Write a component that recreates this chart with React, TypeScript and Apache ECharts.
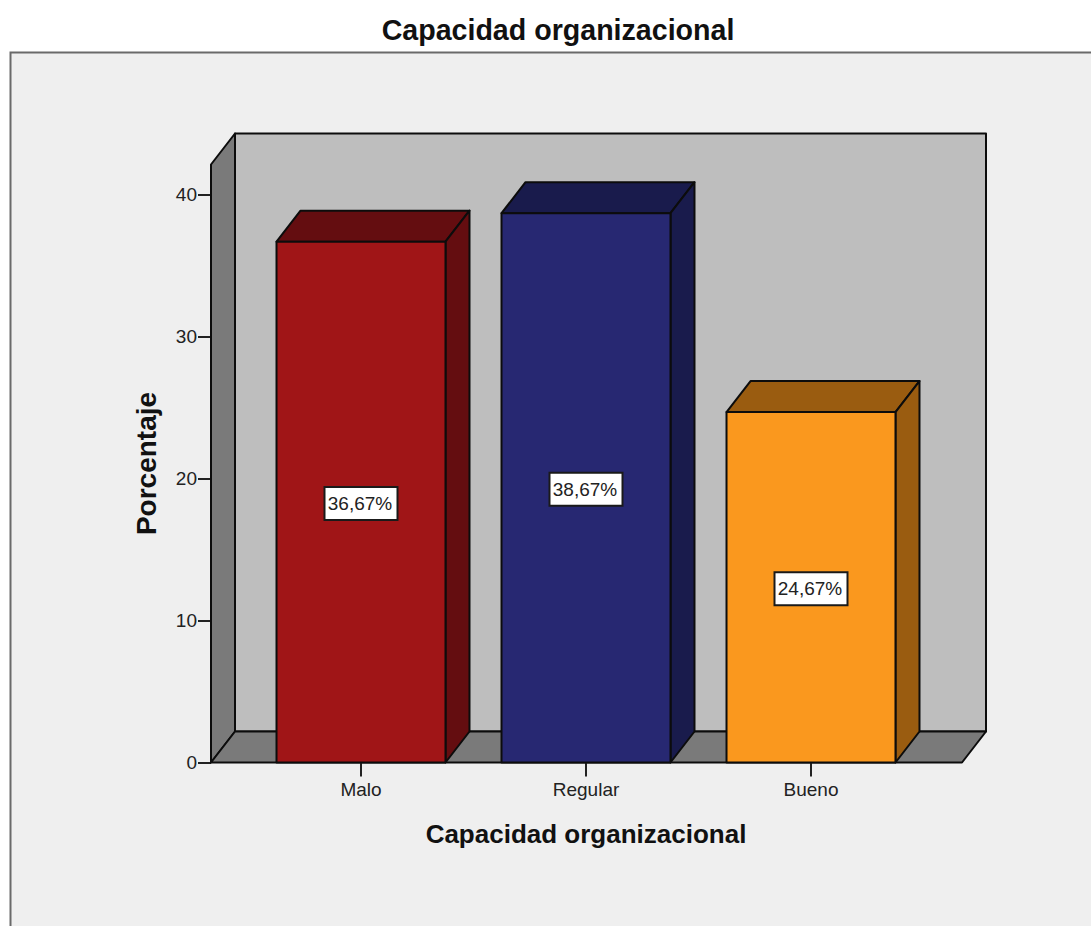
import React, { useEffect, useRef } from "react";
import * as echarts from "echarts";

const categories = ["Malo", "Regular", "Bueno"];
const percentages = [36.67, 38.67, 24.67];
const percentLabels = ["36,67%", "38,67%", "24,67%"];
const frontColors = ["#A01517", "#272872", "#FA981E"];
const shadeColors = ["#640D10", "#191B4C", "#9A5C10"];
const yTicks = [0, 10, 20, 30, 40];
const titleText = "Capacidad organizacional";
const yTitle = "Porcentaje";

const FONT = "'Liberation Sans', Arial, sans-serif";
const DEPTH_X = 24;
const DEPTH_Y = 31;
const TICK_LENGTH = 14;
const EDGE = { stroke: "#0c0c0c", lineWidth: 2, lineJoin: "round" as const };

// Box walls and floor behind the bars, derived from the grid rectangle.
function renderFrame(params: any) {
  const { x, y, width, height } = params.coordSys;
  const left = x - 37.5;
  const right = x + width + 38.5;
  const bottom = y + height;
  const poly = (points: number[][], fill: string) => ({
    type: "polygon",
    shape: { points },
    style: { fill, ...EDGE },
  });
  return {
    type: "group",
    children: [
      poly(
        [
          [left + DEPTH_X, y - DEPTH_Y],
          [right + DEPTH_X, y - DEPTH_Y],
          [right + DEPTH_X, bottom - DEPTH_Y],
          [left + DEPTH_X, bottom - DEPTH_Y],
        ],
        "#BEBEBE"
      ),
      poly(
        [
          [left, y],
          [left + DEPTH_X, y - DEPTH_Y],
          [left + DEPTH_X, bottom - DEPTH_Y],
          [left, bottom],
        ],
        "#7A7A7A"
      ),
      poly(
        [
          [left, bottom],
          [left + DEPTH_X, bottom - DEPTH_Y],
          [right + DEPTH_X, bottom - DEPTH_Y],
          [right, bottom],
        ],
        "#7A7A7A"
      ),
    ],
  };
}

// One extruded bar: category tick, front face, top face, side face and a boxed value label.
function renderBar(params: any, api: any) {
  const index = api.value(0);
  const value = api.value(1);
  const [cx, top] = api.coord([index, value]);
  const [, base] = api.coord([index, 0]);
  const half = (api.size([1, 0])[0] * 0.751) / 2;
  const l = cx - half;
  const r = cx + half;
  const labelY = (top + base) / 2 + 1.5;
  return {
    type: "group",
    children: [
      {
        type: "line",
        shape: { x1: cx, y1: base, x2: cx, y2: base + TICK_LENGTH },
        style: { stroke: "#222222", lineWidth: 2 },
      },
      {
        type: "polygon",
        shape: {
          points: [
            [l, top],
            [l + DEPTH_X, top - DEPTH_Y],
            [r + DEPTH_X, top - DEPTH_Y],
            [r, top],
          ],
        },
        style: { fill: shadeColors[index], ...EDGE },
      },
      {
        type: "polygon",
        shape: {
          points: [
            [r, top],
            [r + DEPTH_X, top - DEPTH_Y],
            [r + DEPTH_X, base - DEPTH_Y],
            [r, base],
          ],
        },
        style: { fill: shadeColors[index], ...EDGE },
      },
      {
        type: "rect",
        shape: { x: l, y: top, width: r - l, height: base - top },
        style: { fill: frontColors[index], ...EDGE },
      },
      {
        type: "rect",
        shape: { x: cx - 36.5, y: labelY - 16.5, width: 73, height: 33 },
        style: { fill: "#FFFFFF", stroke: "#1a1a1a", lineWidth: 2 },
      },
      {
        type: "text",
        x: cx - 1,
        y: labelY,
        style: {
          text: percentLabels[index],
          fontFamily: FONT,
          fontSize: 19,
          fill: "#222222",
          align: "center",
          verticalAlign: "middle",
        },
      },
    ],
  };
}

export default function App() {
  const ref = useRef<HTMLDivElement>(null);

  useEffect(() => {
    const chart = echarts.init(ref.current!, null, { renderer: "svg" });
    chart.setOption({
      animation: false,
      backgroundColor: "#FFFFFF",
      graphic: [
        {
          type: "rect",
          z: 0,
          shape: { x: 10.5, y: 52.5, width: 1100, height: 900 },
          style: { fill: "#EFEFEF", stroke: "#6a6a6a", lineWidth: 2 },
        },
      ],
      title: {
        text: titleText,
        left: 553,
        top: 10,
        textAlign: "center",
        textStyle: { fontFamily: FONT, fontSize: 28.6, fontWeight: "bold", color: "#111111" },
      },
      grid: { left: 248.5, top: 164.5, width: 675, height: 598 },
      xAxis: {
        type: "category",
        data: categories,
        name: titleText,
        nameLocation: "middle",
        nameGap: 58,
        nameTextStyle: { fontFamily: FONT, fontSize: 26, fontWeight: "bold", color: "#111111" },
        axisLine: { show: false },
        axisTick: { show: false },
        axisLabel: { fontFamily: FONT, fontSize: 19, color: "#222222", margin: 17 },
      },
      yAxis: {
        type: "value",
        min: 0,
        max: 42.1,
        offset: 37.5,
        name: yTitle,
        nameLocation: "middle",
        nameGap: 51,
        nameTextStyle: { fontFamily: FONT, fontSize: 28, fontWeight: "bold", color: "#111111" },
        splitLine: { show: false },
        axisLine: { show: false },
        axisTick: {
          show: true,
          length: 13,
          customValues: yTicks,
          lineStyle: { color: "#222222", width: 2 },
        },
        axisLabel: {
          fontFamily: FONT,
          fontSize: 19,
          color: "#222222",
          margin: 14,
          padding: [6, 0, 0, 0],
          customValues: yTicks,
        },
      },
      series: [
        {
          type: "custom",
          name: "frame",
          z: 1,
          silent: true,
          clip: false,
          data: [[0, 0]],
          encode: { x: 0, y: 1 },
          renderItem: renderFrame,
        },
        {
          type: "custom",
          name: titleText,
          z: 2,
          clip: false,
          data: percentages.map((v, i) => [i, v]),
          encode: { x: 0, y: 1 },
          renderItem: renderBar,
        },
      ],
    });
    return () => chart.dispose();
  }, []);

  return <div ref={ref} style={{ position: "absolute", left: 0, top: 0, width: 1091, height: 926 }} />;
}
